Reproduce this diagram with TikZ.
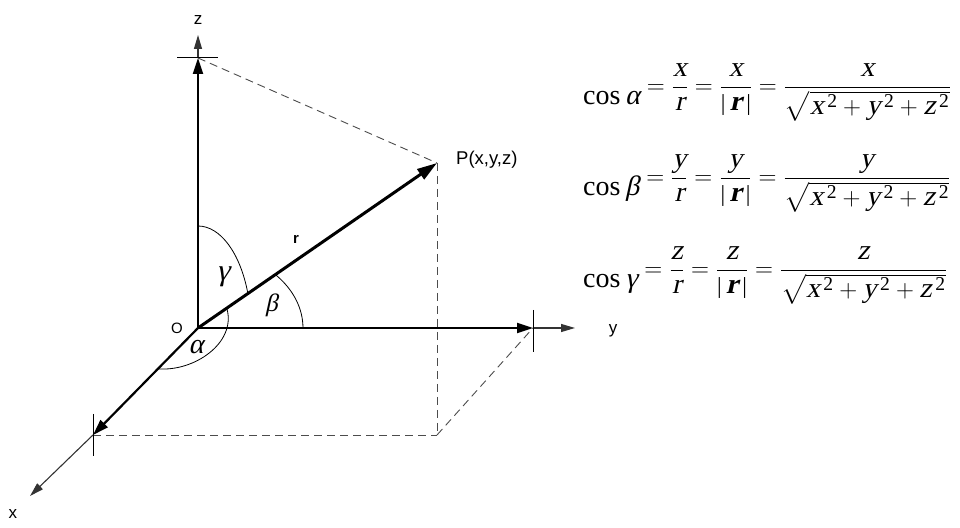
\documentclass[tikz,border=0pt]{standalone}
\usepackage{amsmath}
\usepackage{fontspec}
\setmainfont{Liberation Serif}
\setsansfont{Liberation Sans}
\newfontfamily\tms{Liberation Serif}
\newfontfamily\tmsi{Liberation Serif}[FakeSlant=0.22]
\usetikzlibrary{arrows.meta,calc}

\newcommand\mv[1]{\text{\tmsi #1}}
\newcommand\vbar{\text{\tms\fontsize{23}{23}\selectfont |}}
\newcommand\vr{\vbar\,\text{\tmsi\bfseries r}\,\vbar}
\newcommand\sq[1]{\mv{#1}^{\,\text{\tms 2}}}
\newcommand\dcos[2]{$\displaystyle
  \raisebox{-0.4em}{\tms cos\,{\tmsi #1}}
  = \frac{\mv{#2}}{\mv{r}}
  = \frac{\mv{#2}}{\vr}
  = \frac{\mv{#2}}{\sqrt{\sq{x}+\sq{y}+\sq{z}}}$}

\tikzset{
  axis/.style={line width=2.2pt,-{Triangle[length=16pt,width=10pt]}},
  ext/.style={line width=1.1pt,black!80,-{Triangle[length=14pt,width=8pt]}},
  vec/.style={line width=3pt,-{Triangle[length=20pt,width=12pt]}},
  tick/.style={line width=1pt},
  proj/.style={line width=0.9pt,black!70,dash pattern=on 8pt off 5pt},
  angarc/.style={line width=0.8pt},
  lbl/.style={font=\sffamily\fontsize{17}{19}\selectfont,inner sep=0pt},
  grk/.style={font=\tmsi\fontsize{30}{32}\selectfont,inner sep=0pt},
  eq/.style={font=\tms\fontsize{28}{32}\selectfont,inner sep=0pt,anchor=base west}
}

\begin{document}
\begin{tikzpicture}[x=1pt,y=1pt]
  \useasboundingbox (0,0) rectangle (960,527);
  \coordinate (O) at (198,199);
  \coordinate (X) at (93,92);
  \coordinate (Y) at (533,199);
  \coordinate (Z) at (198,469);
  \coordinate (P) at (437,364);
  \coordinate (Q) at (437,92);
  \coordinate (xt) at (30,31);
  \coordinate (yt) at (575,199);
  \coordinate (zt) at (198,492);
  \draw
    (13,13) node[lbl] (xl) {x}
    (613,196) node[lbl] (yl) {y}
    (198,507) node[lbl] (zl) {z}
    (177,199) node[lbl,font=\sffamily\fontsize{15}{17}\selectfont] (ol) {O}
    (456,367) node[lbl,anchor=west,font=\sffamily\fontsize{18.5}{20}\selectfont] (pl) {P(x,y,z)}
    (296,288) node[lbl,font=\sffamily\bfseries\fontsize{15}{17}\selectfont] (rl) {r};
  % projections
  \begin{scope}[proj]
    \draw (Z) -- (P);
    \draw (P) -- (Q);
    \draw (X) -- (Q);
    \draw (Q) -- (Y);
  \end{scope}
  % angles
  \begin{scope}[angarc]
    \draw ([yshift=102pt]O) arc[start angle=90,end angle=20,x radius=53,y radius=102];
    \draw ($(O)+(78,52.9)$) arc[start angle=42,end angle=0,x radius=105,y radius=79];
    \draw ($(O)+(29,19)$) to[out=-75,in=-5] ($(O)+(-40,-40.8)$);
  \end{scope}
  \node[grk] (gam) at (223,250) {γ};
  \node[grk,font=\tmsi\fontsize{25}{27}\selectfont] (bet) at (271.5,222) {β};
  \node[grk,font=\tmsi\fontsize{28}{30}\selectfont] (alp) at (196,180) {α};
  % axes
  \draw[axis] (O) -- (X);
  \draw[axis] (O) -- (Y);
  \draw[axis] (O) -- (Z);
  \draw[ext] (X) -- (xt);
  \draw[ext] (Y) -- (yt);
  \draw[ext] (Z) -- (zt);
  \draw[tick] ([yshift=21pt]X) -- ([yshift=-21pt]X);
  \draw[tick] ([yshift=18pt]Y) -- ([yshift=-24pt]Y);
  \draw[tick] ([xshift=-21pt]Z) -- ([xshift=20pt]Z);
  \draw[vec] (O) -- (P);
  % direction cosines
  \node[eq] (eqa) at (583,433.5) {\dcos{α}{x}};
  \node[eq] (eqb) at (583,342.5) {\dcos{β}{y}};
  \node[eq] (eqg) at (583,250.5) {\dcos{γ}{z}};
\end{tikzpicture}
\end{document}
